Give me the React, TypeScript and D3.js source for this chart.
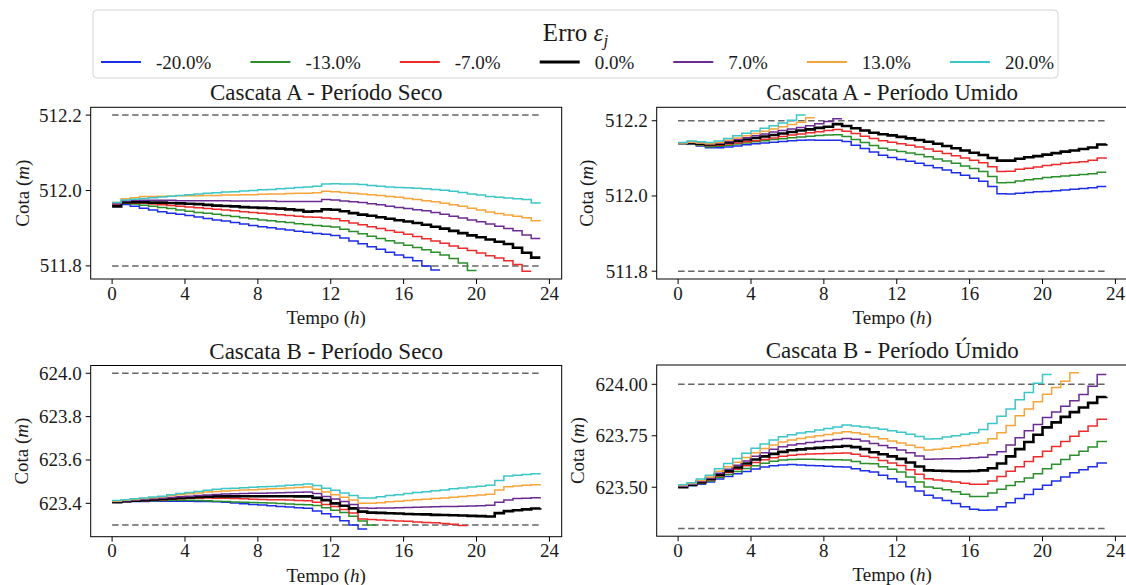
import React from 'react';
import * as d3 from 'd3';

const HOURS_PER_STEP = 0.5;
const X_TICKS = [0, 4, 8, 12, 16, 20, 24];
const ERRORS = ['-20.0%', '-13.0%', '-7.0%', '0.0%', '7.0%', '13.0%', '20.0%'];
const COLORS = ['#1d2ee8', '#2a8f2a', '#ee2a2a', '#000000', '#6a2b93', '#f7a53a', '#3bc6c8'];
const WIDTHS = [1.5, 1.5, 1.5, 2.6, 1.5, 1.5, 1.5];

// Cascata A - Período Seco (half-hourly levels, m)
const A_SECO_M20 = [511.962, 511.963, 511.958, 511.953, 511.948, 511.944, 511.940, 511.937, 511.934, 511.930, 511.926, 511.922, 511.919, 511.915, 511.911, 511.907, 511.904, 511.901, 511.898, 511.895, 511.892, 511.889, 511.886, 511.884, 511.881, 511.874, 511.866, 511.859, 511.851, 511.844, 511.836, 511.829, 511.822, 511.814, 511.800, 511.789, 511.789];
const A_SECO_M13 = [511.963, 511.966, 511.964, 511.961, 511.958, 511.955, 511.952, 511.948, 511.945, 511.942, 511.940, 511.937, 511.934, 511.931, 511.928, 511.925, 511.922, 511.920, 511.917, 511.915, 511.912, 511.910, 511.907, 511.905, 511.903, 511.897, 511.891, 511.885, 511.879, 511.873, 511.867, 511.861, 511.855, 511.849, 511.843, 511.836, 511.829, 511.820, 511.808, 511.788, 511.788];
const A_SECO_M7 = [511.963, 511.968, 511.967, 511.966, 511.964, 511.962, 511.960, 511.958, 511.956, 511.954, 511.952, 511.950, 511.948, 511.946, 511.944, 511.942, 511.940, 511.938, 511.936, 511.934, 511.932, 511.930, 511.929, 511.927, 511.925, 511.920, 511.914, 511.909, 511.904, 511.899, 511.894, 511.889, 511.884, 511.878, 511.872, 511.866, 511.860, 511.853, 511.847, 511.841, 511.834, 511.827, 511.821, 511.814, 511.804, 511.786, 511.786];
const A_SECO_0 = [511.958, 511.969, 511.969, 511.969, 511.968, 511.968, 511.967, 511.966, 511.965, 511.964, 511.962, 511.960, 511.959, 511.958, 511.956, 511.955, 511.954, 511.953, 511.952, 511.950, 511.948, 511.944, 511.945, 511.950, 511.949, 511.945, 511.940, 511.936, 511.933, 511.929, 511.925, 511.921, 511.918, 511.914, 511.909, 511.904, 511.899, 511.893, 511.887, 511.881, 511.876, 511.870, 511.864, 511.858, 511.848, 511.835, 511.822, 511.822];
const A_SECO_P7 = [511.965, 511.972, 511.974, 511.974, 511.974, 511.974, 511.974, 511.973, 511.973, 511.973, 511.973, 511.973, 511.973, 511.972, 511.972, 511.972, 511.972, 511.972, 511.971, 511.971, 511.971, 511.971, 511.971, 511.976, 511.975, 511.972, 511.970, 511.968, 511.965, 511.962, 511.958, 511.955, 511.952, 511.949, 511.946, 511.942, 511.937, 511.932, 511.927, 511.922, 511.917, 511.911, 511.905, 511.899, 511.893, 511.882, 511.873, 511.873];
const A_SECO_P13 = [511.968, 511.978, 511.981, 511.984, 511.984, 511.985, 511.985, 511.986, 511.986, 511.986, 511.987, 511.987, 511.988, 511.988, 511.989, 511.989, 511.990, 511.991, 511.991, 511.992, 511.993, 511.993, 511.994, 511.998, 511.997, 511.995, 511.993, 511.991, 511.989, 511.987, 511.984, 511.982, 511.979, 511.976, 511.973, 511.970, 511.966, 511.962, 511.958, 511.953, 511.948, 511.943, 511.939, 511.935, 511.932, 511.928, 511.920, 511.919];
const A_SECO_P20 = [511.968, 511.975, 511.977, 511.979, 511.981, 511.983, 511.985, 511.987, 511.989, 511.991, 511.993, 511.994, 511.996, 511.997, 511.999, 512.000, 512.002, 512.003, 512.005, 512.006, 512.008, 512.009, 512.011, 512.017, 512.018, 512.017, 512.017, 512.016, 512.013, 512.011, 512.009, 512.008, 512.007, 512.006, 512.005, 512.003, 512.001, 511.998, 511.995, 511.991, 511.988, 511.984, 511.982, 511.980, 511.978, 511.976, 511.967, 511.966];

// Cascata A - Período Umido
const A_UMIDO_M20 = [512.140, 512.138, 512.133, 512.128, 512.128, 512.130, 512.133, 512.136, 512.139, 512.141, 512.143, 512.145, 512.147, 512.148, 512.149, 512.148, 512.148, 512.148, 512.145, 512.135, 512.126, 512.117, 512.108, 512.102, 512.097, 512.092, 512.087, 512.081, 512.075, 512.069, 512.062, 512.055, 512.047, 512.039, 512.025, 512.006, 512.005, 512.007, 512.009, 512.011, 512.012, 512.014, 512.016, 512.018, 512.020, 512.022, 512.025, 512.025];
const A_UMIDO_M13 = [512.140, 512.139, 512.135, 512.131, 512.132, 512.135, 512.138, 512.141, 512.144, 512.147, 512.150, 512.152, 512.155, 512.157, 512.159, 512.161, 512.162, 512.163, 512.158, 512.150, 512.142, 512.134, 512.127, 512.122, 512.118, 512.114, 512.110, 512.104, 512.098, 512.093, 512.087, 512.080, 512.073, 512.065, 512.052, 512.035, 512.036, 512.040, 512.043, 512.046, 512.049, 512.051, 512.053, 512.055, 512.057, 512.059, 512.063, 512.063];
const A_UMIDO_M7 = [512.140, 512.140, 512.137, 512.134, 512.135, 512.138, 512.141, 512.144, 512.147, 512.151, 512.154, 512.158, 512.162, 512.165, 512.168, 512.171, 512.174, 512.177, 512.172, 512.166, 512.159, 512.153, 512.147, 512.143, 512.139, 512.135, 512.130, 512.125, 512.119, 512.113, 512.107, 512.101, 512.095, 512.088, 512.078, 512.065, 512.066, 512.071, 512.074, 512.077, 512.081, 512.084, 512.087, 512.089, 512.091, 512.095, 512.101, 512.102];
const A_UMIDO_0 = [512.140, 512.141, 512.139, 512.137, 512.138, 512.142, 512.146, 512.150, 512.154, 512.158, 512.162, 512.166, 512.170, 512.174, 512.177, 512.181, 512.184, 512.191, 512.186, 512.180, 512.174, 512.168, 512.164, 512.161, 512.157, 512.153, 512.149, 512.144, 512.139, 512.133, 512.127, 512.121, 512.115, 512.109, 512.101, 512.094, 512.094, 512.099, 512.103, 512.106, 512.110, 512.114, 512.118, 512.121, 512.125, 512.129, 512.137, 512.138];
const A_UMIDO_P7 = [512.140, 512.142, 512.140, 512.138, 512.140, 512.145, 512.150, 512.155, 512.160, 512.165, 512.170, 512.174, 512.178, 512.182, 512.187, 512.192, 512.198, 512.205, 512.205];
const A_UMIDO_P13 = [512.141, 512.143, 512.141, 512.139, 512.142, 512.148, 512.154, 512.160, 512.166, 512.172, 512.178, 512.184, 512.190, 512.196, 512.208, 512.208];
const A_UMIDO_P20 = [512.142, 512.146, 512.144, 512.142, 512.146, 512.153, 512.160, 512.167, 512.173, 512.180, 512.187, 512.194, 512.201, 512.215, 512.215];

// Cascata B - Período Seco
const B_SECO_M20 = [623.405, 623.407, 623.408, 623.409, 623.410, 623.410, 623.410, 623.410, 623.410, 623.409, 623.408, 623.407, 623.405, 623.401, 623.398, 623.395, 623.392, 623.389, 623.386, 623.383, 623.380, 623.377, 623.365, 623.352, 623.338, 623.320, 623.300, 623.282, 623.282];
const B_SECO_M13 = [623.405, 623.408, 623.410, 623.411, 623.412, 623.413, 623.414, 623.414, 623.414, 623.413, 623.412, 623.410, 623.408, 623.406, 623.405, 623.404, 623.403, 623.401, 623.399, 623.397, 623.395, 623.393, 623.390, 623.380, 623.368, 623.358, 623.340, 623.318, 623.300, 623.300];
const B_SECO_M7 = [623.405, 623.409, 623.411, 623.413, 623.415, 623.417, 623.419, 623.421, 623.423, 623.424, 623.425, 623.424, 623.423, 623.422, 623.421, 623.419, 623.418, 623.417, 623.416, 623.415, 623.413, 623.412, 623.405, 623.395, 623.385, 623.372, 623.355, 623.328, 623.325, 623.323, 623.321, 623.319, 623.317, 623.314, 623.312, 623.310, 623.307, 623.304, 623.298, 623.298];
const B_SECO_0 = [623.405, 623.410, 623.412, 623.415, 623.418, 623.420, 623.422, 623.425, 623.427, 623.429, 623.431, 623.432, 623.432, 623.432, 623.433, 623.433, 623.433, 623.433, 623.433, 623.433, 623.432, 623.432, 623.425, 623.415, 623.400, 623.389, 623.377, 623.362, 623.357, 623.356, 623.354, 623.353, 623.351, 623.350, 623.349, 623.347, 623.346, 623.345, 623.344, 623.342, 623.341, 623.339, 623.355, 623.364, 623.368, 623.372, 623.376, 623.377];
const B_SECO_P7 = [623.408, 623.412, 623.415, 623.418, 623.421, 623.424, 623.427, 623.430, 623.433, 623.436, 623.439, 623.441, 623.443, 623.444, 623.445, 623.446, 623.447, 623.448, 623.449, 623.450, 623.451, 623.452, 623.445, 623.432, 623.420, 623.408, 623.395, 623.378, 623.377, 623.378, 623.379, 623.380, 623.381, 623.382, 623.383, 623.384, 623.385, 623.386, 623.387, 623.388, 623.389, 623.391, 623.405, 623.415, 623.422, 623.424, 623.426, 623.428];
const B_SECO_P13 = [623.410, 623.414, 623.418, 623.422, 623.426, 623.430, 623.435, 623.440, 623.444, 623.448, 623.452, 623.455, 623.457, 623.459, 623.461, 623.463, 623.465, 623.467, 623.469, 623.471, 623.473, 623.475, 623.465, 623.452, 623.440, 623.428, 623.415, 623.400, 623.400, 623.403, 623.407, 623.410, 623.413, 623.416, 623.419, 623.422, 623.425, 623.428, 623.431, 623.435, 623.438, 623.442, 623.462, 623.477, 623.480, 623.483, 623.486, 623.488];
const B_SECO_P20 = [623.413, 623.417, 623.421, 623.425, 623.429, 623.433, 623.440, 623.445, 623.450, 623.455, 623.460, 623.465, 623.468, 623.470, 623.472, 623.474, 623.476, 623.478, 623.480, 623.483, 623.486, 623.489, 623.482, 623.470, 623.460, 623.448, 623.436, 623.425, 623.425, 623.430, 623.436, 623.440, 623.445, 623.450, 623.454, 623.458, 623.462, 623.467, 623.471, 623.475, 623.479, 623.483, 623.505, 623.526, 623.530, 623.533, 623.536, 623.538];

// Cascata B - Período Úmido
const B_UMIDO_M20 = [623.500, 623.507, 623.515, 623.525, 623.540, 623.552, 623.565, 623.577, 623.589, 623.598, 623.604, 623.608, 623.610, 623.608, 623.606, 623.604, 623.602, 623.600, 623.598, 623.590, 623.580, 623.574, 623.558, 623.541, 623.525, 623.503, 623.482, 623.461, 623.448, 623.436, 623.421, 623.405, 623.393, 623.388, 623.390, 623.405, 623.425, 623.445, 623.465, 623.490, 623.510, 623.530, 623.550, 623.570, 623.585, 623.600, 623.618, 623.622];
const B_UMIDO_M13 = [623.500, 623.508, 623.518, 623.530, 623.547, 623.562, 623.577, 623.591, 623.605, 623.617, 623.626, 623.632, 623.635, 623.636, 623.636, 623.635, 623.634, 623.633, 623.632, 623.625, 623.615, 623.614, 623.600, 623.587, 623.574, 623.550, 623.525, 623.501, 623.495, 623.488, 623.478, 623.466, 623.455, 623.455, 623.472, 623.490, 623.508, 623.527, 623.545, 623.565, 623.590, 623.612, 623.635, 623.655, 623.675, 623.695, 623.722, 623.726];
const B_UMIDO_M7 = [623.500, 623.510, 623.522, 623.536, 623.555, 623.572, 623.588, 623.604, 623.620, 623.633, 623.643, 623.650, 623.656, 623.659, 623.661, 623.663, 623.664, 623.665, 623.666, 623.660, 623.650, 623.645, 623.630, 623.618, 623.606, 623.585, 623.563, 623.541, 623.535, 623.530, 623.525, 623.520, 623.515, 623.514, 623.530, 623.552, 623.578, 623.600, 623.625, 623.648, 623.675, 623.698, 623.722, 623.748, 623.772, 623.798, 623.830, 623.834];
const B_UMIDO_0 = [623.500, 623.512, 623.525, 623.540, 623.560, 623.578, 623.596, 623.615, 623.635, 623.650, 623.662, 623.672, 623.680, 623.684, 623.688, 623.691, 623.694, 623.697, 623.700, 623.695, 623.685, 623.670, 623.660, 623.650, 623.638, 623.620, 623.601, 623.582, 623.580, 623.579, 623.578, 623.578, 623.579, 623.582, 623.592, 623.615, 623.650, 623.685, 623.720, 623.755, 623.791, 623.815, 623.842, 623.865, 623.887, 623.910, 623.938, 623.940];
const B_UMIDO_P7 = [623.505, 623.515, 623.528, 623.544, 623.568, 623.588, 623.607, 623.628, 623.650, 623.668, 623.684, 623.697, 623.705, 623.711, 623.717, 623.722, 623.727, 623.732, 623.737, 623.733, 623.725, 623.712, 623.703, 623.692, 623.681, 623.667, 623.652, 623.636, 623.637, 623.638, 623.639, 623.641, 623.643, 623.646, 623.658, 623.672, 623.705, 623.740, 623.775, 623.805, 623.839, 623.865, 623.893, 623.920, 623.950, 623.990, 624.048, 624.048];
const B_UMIDO_P13 = [623.508, 623.518, 623.533, 623.550, 623.578, 623.600, 623.622, 623.645, 623.668, 623.688, 623.705, 623.720, 623.730, 623.737, 623.744, 623.750, 623.756, 623.763, 623.770, 623.765, 623.758, 623.745, 623.735, 623.725, 623.715, 623.704, 623.693, 623.681, 623.684, 623.690, 623.697, 623.703, 623.709, 623.715, 623.735, 623.765, 623.800, 623.847, 623.880, 623.915, 623.952, 623.985, 624.015, 624.056, 624.056];
const B_UMIDO_P20 = [623.512, 623.522, 623.540, 623.558, 623.590, 623.615, 623.640, 623.665, 623.690, 623.710, 623.730, 623.745, 623.755, 623.763, 623.770, 623.778, 623.785, 623.793, 623.802, 623.798, 623.793, 623.788, 623.782, 623.775, 623.767, 623.757, 623.747, 623.734, 623.736, 623.744, 623.750, 623.757, 623.765, 623.780, 623.810, 623.845, 623.880, 623.925, 623.960, 624.005, 624.048, 624.048];

const PANEL_W = 471;
const X_DOMAIN = [-1.175, 24.675];
const FONT = '"Liberation Serif", serif';

const PANELS = [
  {
    title: 'Cascata A - Período Seco',
    series: [A_SECO_M20, A_SECO_M13, A_SECO_M7, A_SECO_0, A_SECO_P7, A_SECO_P13, A_SECO_P20],
    limits: [511.8, 512.2], yTicks: [511.8, 512.0, 512.2], fmt: '.1f',
    left: 90.7, top: 107.3, height: 171.7, ylabelX: 22,
  },
  {
    title: 'Cascata A - Período Umido',
    series: [A_UMIDO_M20, A_UMIDO_M13, A_UMIDO_M7, A_UMIDO_0, A_UMIDO_P7, A_UMIDO_P13, A_UMIDO_P20],
    limits: [511.8, 512.2], yTicks: [511.8, 512.0, 512.2], fmt: '.1f',
    left: 656.7, top: 107.3, height: 171.7, ylabelX: 586,
  },
  {
    title: 'Cascata B - Período Seco',
    series: [B_SECO_M20, B_SECO_M13, B_SECO_M7, B_SECO_0, B_SECO_P7, B_SECO_P13, B_SECO_P20],
    limits: [623.3, 624.0], yTicks: [623.4, 623.6, 623.8, 624.0], fmt: '.1f',
    left: 90.7, top: 365.5, height: 171.2, ylabelX: 21,
  },
  {
    title: 'Cascata B - Período Úmido',
    series: [B_UMIDO_M20, B_UMIDO_M13, B_UMIDO_M7, B_UMIDO_0, B_UMIDO_P7, B_UMIDO_P13, B_UMIDO_P20],
    limits: [623.3, 624.0], yTicks: [623.5, 623.75, 624.0], fmt: '.2f',
    left: 656.7, top: 365, height: 171.2, ylabelX: 577,
  },
];

const TS = { fontFamily: FONT };

function Panel({ p }: { p: any }) {
  const x = d3.scaleLinear().domain(X_DOMAIN).range([p.left, p.left + PANEL_W]);
  const all: number[] = [...p.series.flat(), ...p.limits];
  const [lo, hi] = d3.extent(all) as [number, number];
  const pad = (hi - lo) * 0.05;
  const bottom = p.top + p.height;
  const y = d3.scaleLinear().domain([lo - pad, hi + pad]).range([bottom, p.top]);
  const line = d3
    .line<number>()
    .x((_, i) => x(i * HOURS_PER_STEP))
    .y((v) => y(v))
    .curve(d3.curveStepAfter);
  const maxLen = d3.max(p.series, (s: number[]) => s.length) as number;
  const tEnd = (maxLen - 1) * HOURS_PER_STEP;
  const fmt = d3.format(p.fmt);
  const cx = p.left + PANEL_W / 2;
  const cy = p.top + p.height / 2;
  return (
    <g>
      <rect x={p.left} y={p.top} width={PANEL_W} height={p.height} fill="#fff" />
      {p.limits.map((l: number, i: number) => (
        <line key={'l' + i} x1={x(0)} x2={x(tEnd)} y1={y(l)} y2={y(l)} stroke="#666" strokeWidth={1.5} strokeDasharray="6.5,3.5" />
      ))}
      {p.series.map((s: number[], k: number) => (
        <path key={'s' + k} d={line(s) || ''} fill="none" stroke={COLORS[k]} strokeWidth={WIDTHS[k]} />
      ))}
      <rect x={p.left} y={p.top} width={PANEL_W} height={p.height} fill="none" stroke="#000" strokeWidth={1} />
      {X_TICKS.map((t) => (
        <g key={'xt' + t}>
          <line x1={x(t)} x2={x(t)} y1={bottom} y2={bottom + 5} stroke="#000" strokeWidth={1} />
          <text x={x(t)} y={bottom + 20.5} textAnchor="middle" fontSize={19} fill="#1a1a1a" style={TS}>{t}</text>
        </g>
      ))}
      {p.yTicks.map((v: number) => (
        <g key={'yt' + v}>
          <line x1={p.left - 5} x2={p.left} y1={y(v)} y2={y(v)} stroke="#000" strokeWidth={1} />
          <text x={p.left - 9} y={y(v) + 6.5} textAnchor="end" fontSize={19} fill="#1a1a1a" style={TS}>{fmt(v)}</text>
        </g>
      ))}
      <text x={cx} y={p.top - 7} textAnchor="middle" fontSize={23} fill="#1a1a1a" style={TS}>{p.title}</text>
      <text x={cx} y={bottom + 45} textAnchor="middle" fontSize={19} fill="#1a1a1a" style={TS}>
        Tempo (<tspan fontStyle="italic">h</tspan>)
      </text>
      <text transform={`translate(${p.ylabelX},${cy}) rotate(-90)`} textAnchor="middle" dominantBaseline="central" fontSize={19} fill="#1a1a1a" style={TS}>
        Cota (<tspan fontStyle="italic">m</tspan>)
      </text>
    </g>
  );
}

function measure(text: string, size: number): number {
  const c = document.createElement('canvas').getContext('2d');
  if (!c) return text.length * size * 0.5;
  c.font = `${size}px ${FONT}`;
  return c.measureText(text).width;
}

function Legend() {
  const boxL = 93, boxT = 10, boxR = 1058, boxB = 78;
  const rowY = 62;
  const handleLen = 40, textGap = 15, colGap = 39;
  let cursor = 101;
  const items = ERRORS.map((label, k) => {
    const x0 = cursor;
    const w = measure(label, 19);
    cursor = x0 + handleLen + textGap + w + colGap;
    return { label, k, x0, w };
  });
  return (
    <g>
      <rect x={boxL} y={boxT} width={boxR - boxL} height={boxB - boxT} rx={4} fill="#fff" stroke="#d4d4d4" strokeWidth={1} />
      <text x={(boxL + boxR) / 2} y={40.5} textAnchor="middle" fontSize={25} fill="#1a1a1a" style={TS}>
        Erro <tspan fontStyle="italic">ε</tspan>
        <tspan fontStyle="italic" fontSize={17} dy={5}>j</tspan>
      </text>
      {items.map((it) => (
        <g key={it.label}>
          <line x1={it.x0} x2={it.x0 + handleLen} y1={rowY} y2={rowY} stroke={COLORS[it.k]} strokeWidth={WIDTHS[it.k] + 0.3} />
          <text x={it.x0 + handleLen + textGap} y={rowY + 6.5} fontSize={19} fill="#1a1a1a" style={TS}>{it.label}</text>
        </g>
      ))}
    </g>
  );
}

export default function App() {
  return (
    <svg width={1126} height={585} style={{ position: 'absolute', left: 0, top: 0, background: '#fff' }}>
      <rect x={0} y={0} width={1126} height={585} fill="#fff" />
      {PANELS.map((p, i) => (
        <Panel key={i} p={p} />
      ))}
      <Legend />
    </svg>
  );
}
